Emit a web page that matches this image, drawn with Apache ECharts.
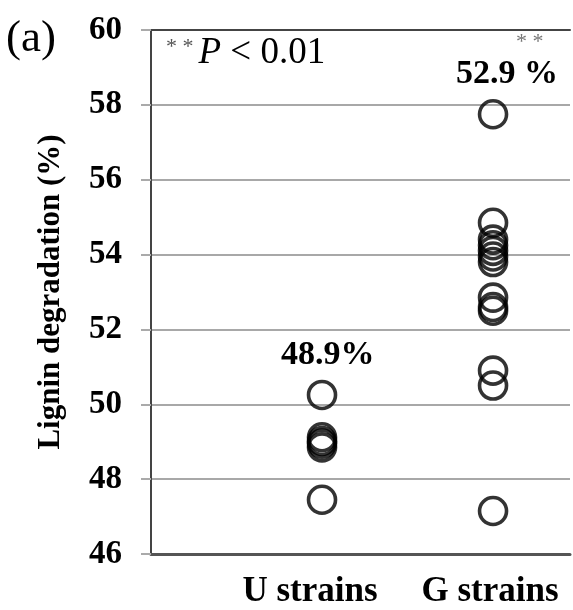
<!DOCTYPE html>
<html>
<head>
<meta charset="utf-8">
<script src="https://cdn.jsdelivr.net/npm/echarts@6/dist/echarts.min.js"></script>
<style>
  html, body { margin: 0; padding: 0; background: #fff; }
  #chart { width: 573px; height: 610px; }
</style>
</head>
<body>
<div id="chart"></div>
<script>
// Strain groups shown along the horizontal axis
const categories = ['U strains', 'G strains'];

// Lignin degradation (%) measured for each strain
const uStrains = [50.25, 49.12, 49.02, 48.95, 48.85, 47.45];
const gStrains = [57.75, 54.85, 54.4, 54.25, 54.1, 53.95, 53.8, 52.85, 52.6, 52.5, 50.9, 50.5, 47.15];

// Group means printed above each column
const meanLabels = ['48.9%', '52.9 %'];

// Vertical axis ticks
const yTicks = [46, 48, 50, 52, 54, 56, 58, 60];

const serif = '"Liberation Serif", "Times New Roman", serif';

const chart = echarts.init(document.getElementById('chart'), null, { renderer: 'canvas' });

function pts(values, idx) {
  return values.map(v => [idx + 1, v]);
}

const circleStyle = {
  color: 'rgba(0,0,0,0)',
  borderColor: '#000',
  borderWidth: 3.6
};

chart.setOption({
  animation: false,
  backgroundColor: '#fff',
  grid: { left: 151, top: 30, right: 0, bottom: 56, containLabel: false },
  xAxis: [
    {
      type: 'value',
      min: 0,
      max: 2.45,
      interval: 1,
      position: 'bottom',
      axisLine: { show: true, lineStyle: { color: '#555', width: 3 } },
      axisTick: { show: false },
      splitLine: { show: false },
      axisLabel: {
        show: true,
        margin: 20,
        formatter: v => (v >= 1 && v <= categories.length) ? '{' + (v === 1 ? 'u' : 'g') + '|' + categories[v - 1] + '}' : '',
        rich: {
          u: { fontFamily: serif, fontWeight: 'bold', fontSize: 35, color: '#000', padding: [0, 24, 0, 0] },
          g: { fontFamily: serif, fontWeight: 'bold', fontSize: 35, color: '#000', padding: [0, 6, 0, 0] }
        }
      }
    },
    {
      type: 'value',
      min: 0,
      max: 2.45,
      position: 'top',
      axisLine: { show: true, lineStyle: { color: '#444', width: 2 } },
      axisTick: { show: false },
      axisLabel: { show: false },
      splitLine: { show: false }
    }
  ],
  yAxis: {
    type: 'value',
    min: yTicks[0],
    max: yTicks[yTicks.length - 1],
    interval: 2,
    name: 'Lignin degradation (%)',
    nameLocation: 'middle',
    nameGap: 85,
    nameRotate: 90,
    nameTextStyle: { fontFamily: serif, fontWeight: 'bold', fontSize: 31, color: '#000' },
    axisLine: { show: true, lineStyle: { color: '#444', width: 2 } },
    axisTick: { show: true, length: 10, lineStyle: { color: '#aaa', width: 2 } },
    axisLabel: {
      margin: 29,
      fontFamily: serif,
      fontWeight: 'bold',
      fontSize: 33,
      color: '#000'
    },
    splitLine: { show: true, lineStyle: { color: '#a8a8a8', width: 2 } }
  },
  series: [
    {
      name: categories[0],
      type: 'scatter',
      symbol: 'circle',
      symbolSize: 27,
      itemStyle: circleStyle,
      data: pts(uStrains, 0)
    },
    {
      name: categories[1],
      type: 'scatter',
      symbol: 'circle',
      symbolSize: 27,
      itemStyle: circleStyle,
      data: pts(gStrains, 1)
    }
  ],
  graphic: [
    {
      type: 'text',
      left: 6, top: 17,
      style: { text: '(a)', font: '45px ' + serif, fill: '#000' }
    },
    {
      type: 'text',
      left: 166, top: 35,
      style: {
        text: '{s|* *}{p|P}{t| < 0.01}',
        rich: {
          s: { font: '22px ' + serif, fill: '#555', padding: [0, 5, 12, 0] },
          p: { font: 'italic 37px ' + serif, fill: '#000' },
          t: { font: '37px ' + serif, fill: '#000' }
        }
      }
    },
    {
      type: 'text',
      left: 516, top: 31,
      style: { text: '* *', font: '22px ' + serif, fill: '#777' }
    },
    {
      type: 'text',
      left: 456, top: 57,
      style: { text: meanLabels[1], font: 'bold 34px ' + serif, fill: '#000' }
    },
    {
      type: 'text',
      left: 281, top: 338,
      style: { text: meanLabels[0], font: 'bold 34px ' + serif, fill: '#000' }
    }
  ]
});
</script>
</body>
</html>
